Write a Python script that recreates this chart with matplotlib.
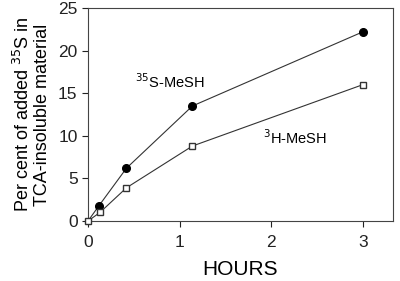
import matplotlib
matplotlib.use("Agg")
import matplotlib.pyplot as plt

plt.rcParams['font.family'] = ['Liberation Sans', 'DejaVu Sans']

hours_s35 = [0.0, 0.12, 0.42, 1.14, 3.0]
pct_s35 = [0.0, 1.8, 6.2, 13.5, 22.2]
hours_h3 = [0.0, 0.13, 0.42, 1.14, 3.0]
pct_h3 = [0.0, 1.0, 3.9, 8.8, 16.0]
xticks = [0, 1, 2, 3]
yticks = [0, 5, 10, 15, 20, 25]

fig = plt.figure(figsize=(4.0, 2.81), dpi=100)
ax = fig.add_axes([0.22, 0.2135, 0.7625, 0.758])

ax.plot(hours_s35, pct_s35, '-', color='#333333', lw=0.8, marker='o',
        markersize=5.5, markerfacecolor='black', markeredgecolor='black',
        markevery=[1, 2, 3, 4], zorder=2, clip_on=False)
ax.plot(hours_h3, pct_h3, '-', color='#333333', lw=0.8, marker='s',
        markersize=5, markerfacecolor='white', markeredgecolor='#333333',
        zorder=3, clip_on=False)

ax.set_xlim(0, 3.33)
ax.set_ylim(0, 25)
ax.set_xticks(xticks)
ax.set_yticks(yticks)
ax.tick_params(labelsize=12.5, direction='out', length=4, width=0.8, colors='#222222')
ax.tick_params(axis='x', pad=6)
for s in ax.spines.values():
    s.set_linewidth(0.8)
    s.set_color('#444444')

ax.set_xlabel('HOURS', fontsize=15, labelpad=7)
ax.set_ylabel('Per cent of added $^{35}$S in\nTCA-insoluble material', fontsize=13,
              linespacing=1.05, labelpad=5)

ax.text(0.51, 16.4, '$^{35}$S-MeSH', fontsize=10.5, ha='left', va='center')
ax.text(1.91, 9.8, '$^{3}$H-MeSH', fontsize=10.5, ha='left', va='center')

fig.savefig('out.png', dpi=100)
